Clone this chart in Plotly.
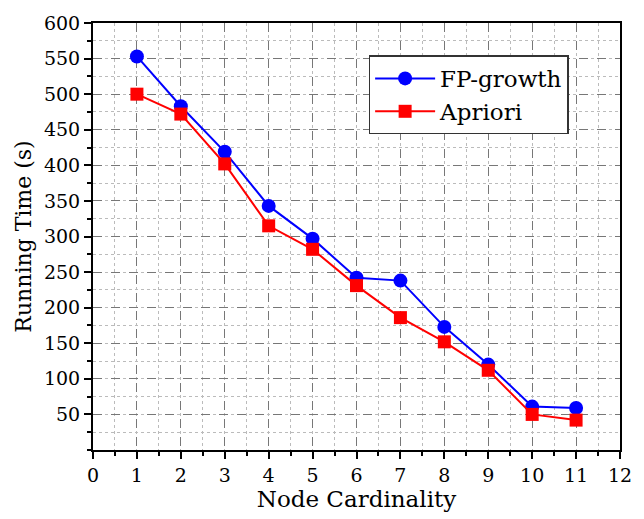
import plotly.graph_objects as go

node_cardinality = [1, 2, 3, 4, 5, 6, 7, 8, 9, 10, 11]
fp_growth = [553, 483, 419, 343, 297, 242, 238, 173, 120, 61, 59]
apriori = [500, 472, 402, 315, 282, 231, 186, 152, 112, 50, 42]
y_ticks = [50, 100, 150, 200, 250, 300, 350, 400, 450, 500, 550, 600]
x_ticks = list(range(0, 13))

FONT = "DejaVu Serif"

fig = go.Figure()
fig.add_trace(go.Scatter(
    x=node_cardinality, y=fp_growth, name="FP-growth", mode="lines+markers",
    line=dict(color="#0000ff", width=2),
    marker=dict(symbol="circle", size=14, color="#0000ff"),
))
fig.add_trace(go.Scatter(
    x=node_cardinality, y=apriori, name="Apriori", mode="lines+markers",
    line=dict(color="#ff0000", width=2),
    marker=dict(symbol="square", size=13, color="#ff0000"),
))

fig.update_layout(
    width=644, height=519,
    margin=dict(l=93, r=14, t=15, b=69),
    paper_bgcolor="white", plot_bgcolor="white",
    font=dict(family=FONT, color="black", size=19),
    legend=dict(
        x=0.523, y=0.924, xanchor="left", yanchor="top",
        bordercolor="#333333", borderwidth=1.5, bgcolor="white",
        font=dict(family=FONT, size=23),
        tracegroupgap=0, itemwidth=60,
    ),
    showlegend=True,
)

fig.update_xaxes(
    range=[0, 12], tickvals=x_ticks, ticktext=[str(v) for v in x_ticks],
    showline=True, linecolor="black", linewidth=2, mirror=True,
    ticks="outside", ticklen=7, tickwidth=2, tickcolor="black",
    showgrid=True, gridcolor="#777777", griddash="dash", gridwidth=1,
    minor=dict(dtick=0.5, tick0=0, ticks="outside", ticklen=4, tickwidth=2,
               tickcolor="black", showgrid=True, gridcolor="#bbbbbb",
               griddash="dot", gridwidth=1),
    zeroline=False,
    tickfont=dict(size=19, family=FONT),
    title=dict(text="Node Cardinality", font=dict(size=23, family=FONT), standoff=2),
)
fig.update_yaxes(
    range=[0, 600], tickvals=y_ticks, ticktext=[str(v) for v in y_ticks],
    showline=True, linecolor="black", linewidth=2, mirror=True,
    ticks="outside", ticklen=7, tickwidth=2, tickcolor="black",
    showgrid=True, gridcolor="#777777", griddash="dash", gridwidth=1,
    minor=dict(dtick=25, tick0=0, ticks="outside", ticklen=4, tickwidth=2,
               tickcolor="black", showgrid=True, gridcolor="#bbbbbb",
               griddash="dot", gridwidth=1),
    zeroline=False,
    tickfont=dict(size=19, family=FONT),
    title=dict(text="Running Time (s)", font=dict(size=22, family=FONT), standoff=6),
)

fig.write_html("out.html")
